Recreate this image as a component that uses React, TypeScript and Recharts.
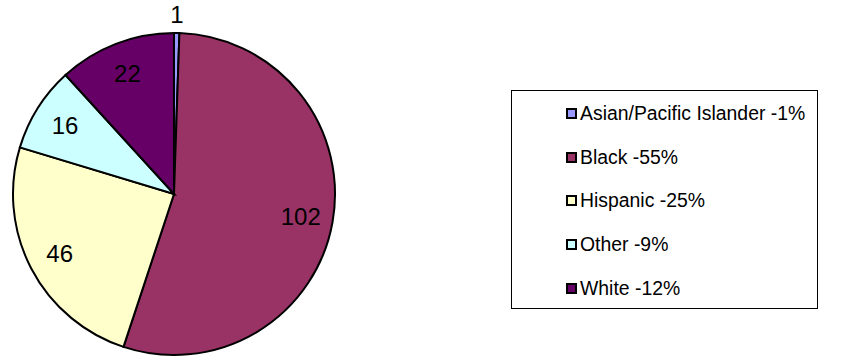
import { PieChart, Pie, Cell, Legend } from "recharts";

const groups = ["Asian/Pacific Islander", "Black", "Hispanic", "Other", "White"];
const counts = [1, 102, 46, 16, 22];
const colors = ["#9999FF", "#993366", "#FFFFCC", "#CCFFFF", "#660066"];

const total = counts.reduce((s, v) => s + v, 0);
const data = groups.map((name, i) => ({ name, value: counts[i] }));

const RADIAN = Math.PI / 180;
const FONT = "'Liberation Sans', Arial, sans-serif";

const renderLabel = ({ cx, cy, midAngle, outerRadius, value }: any) => {
  // tiny slices get their label outside the pie
  const r = value < 5 ? outerRadius + 19 : outerRadius * 0.8;
  const x = cx + r * Math.cos(-midAngle * RADIAN);
  const y = cy + r * Math.sin(-midAngle * RADIAN);
  return (
    <text
      x={x}
      y={y}
      fill="#000"
      fontSize={24}
      fontFamily={FONT}
      textAnchor="middle"
      dominantBaseline="central"
    >
      {value}
    </text>
  );
};

const LegendBox = () => (
  <div
    style={{
      width: 307,
      height: 219,
      boxSizing: "border-box",
      border: "1px solid #000",
      paddingTop: 1,
      fontFamily: FONT,
      fontSize: 19.4,
      color: "#000",
    }}
  >
    {groups.map((g, i) => (
      <div
        key={g}
        style={{
          height: 43.6,
          display: "flex",
          alignItems: "center",
          paddingLeft: 54,
        }}
      >
        <span
          style={{
            display: "inline-block",
            width: 7,
            height: 7,
            border: "2px solid #000",
            background: colors[i],
            marginRight: 3,
          }}
        />
        {g} -{Math.round((counts[i] / total) * 100)}%
      </div>
    ))}
  </div>
);

export default function App() {
  return (
    <div style={{ position: "absolute", left: 0, top: 0, background: "#fff" }}>
      <PieChart
        width={851}
        height={358}
        margin={{ top: 0, right: 0, bottom: 0, left: 0 }}
      >
        <Pie
          data={data}
          dataKey="value"
          nameKey="name"
          cx={174}
          cy={194}
          outerRadius={161}
          startAngle={90}
          endAngle={-270}
          stroke="#000"
          strokeWidth={2}
          label={renderLabel}
          labelLine={false}
          isAnimationActive={false}
        >
          {data.map((d, i) => (
            <Cell key={d.name} fill={colors[i]} />
          ))}
        </Pie>
        <Legend
          content={<LegendBox />}
          wrapperStyle={{ left: 511, top: 90, width: 307, height: 219 }}
        />
      </PieChart>
    </div>
  );
}
